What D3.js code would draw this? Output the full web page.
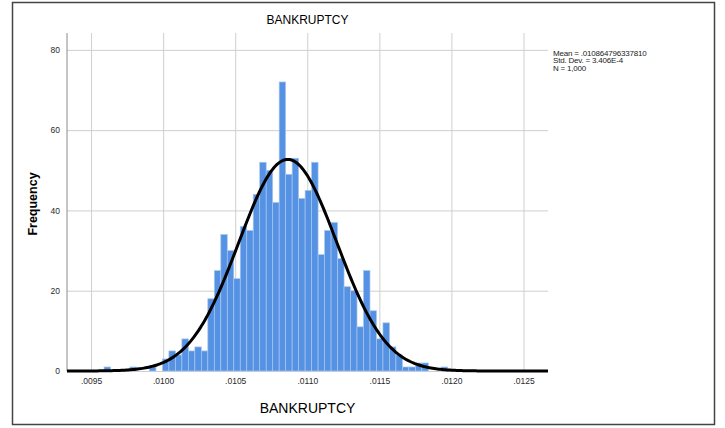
<!DOCTYPE html>
<html>
<head>
<meta charset="utf-8">
<script src="https://cdn.jsdelivr.net/npm/d3@7"></script>
<style>
  body { margin: 0; background: #fff; }
  text { font-family: "Liberation Sans", Arial, sans-serif; }
</style>
</head>
<body>
<div id="chart"></div>
<script>
// histogram counts, one per bin
var counts = [1, 0, 0, 0, 1, 0, 0, 1, 0, 3,
              5, 4, 8, 5, 6, 5, 18, 25, 34, 30,
              23, 36, 35, 44, 52, 50, 42, 72, 49, 53,
              43, 45, 52, 29, 35, 37, 28, 21, 20, 11,
              25, 15, 8, 12, 6, 4, 1, 1, 2, 2,
              0, 0, 1];
var binStart = 0.00959;
var binWidth = 0.000045;

var xTicks = [0.0095, 0.0100, 0.0105, 0.0110, 0.0115, 0.0120, 0.0125];
var xTickLabels = [".0095", ".0100", ".0105", ".0110", ".0115", ".0120", ".0125"];
var yTicks = [0, 20, 40, 60, 80];

var mean = 0.010864796337810;
var stdDev = 0.0003406;
var n = 1000;
var legendLines = ["Mean = .010864796337810", "Std. Dev. = 3.406E-4", "N = 1,000"];

var W = 725, H = 428;
// plot box (note: "top" is reserved on window, so use p* names)
var pLeft = 67, pRight = 548, pTop = 33, pBottom = 371;

var svg = d3.select('#chart').append('svg')
    .attr('width', W)
    .attr('height', H);

// outer frame
svg.append('rect')
    .attr('x', 12.5).attr('y', 2.5)
    .attr('width', 702).attr('height', 422)
    .attr('fill', '#fff')
    .attr('stroke', '#444')
    .attr('stroke-width', 1.5);

var x = d3.scaleLinear().domain([0.009333, 0.012670]).range([pLeft, pRight]);
var y = d3.scaleLinear().domain([0, 84.2]).range([pBottom, pTop]);

// gridlines + tick labels through the axes
var xAxis = svg.append('g')
    .attr('transform', 'translate(0,' + pBottom + ')')
    .call(d3.axisBottom(x)
      .tickValues(xTicks)
      .tickFormat((d, i) => xTickLabels[i])
      .tickSize(-(pBottom - pTop))
      .tickPadding(7));

var yAxis = svg.append('g')
    .attr('transform', 'translate(' + pLeft + ',0)')
    .call(d3.axisLeft(y)
      .tickValues(yTicks)
      .tickSize(-(pRight - pLeft))
      .tickPadding(7));

[xAxis, yAxis].forEach(function(g) {
  g.select('.domain').remove();
  g.selectAll('.tick line').attr('stroke', '#cfcfcf').attr('stroke-width', 1);
  g.selectAll('.tick text')
    .attr('fill', '#2a2a2a')
    .style('font-size', '8.5px')
    .style('font-family', '"Liberation Sans", Arial, sans-serif');
});

// bars
svg.append('g')
  .selectAll('rect')
  .data(counts)
  .enter()
  .append('rect')
    .attr('x', (d, i) => x(binStart + i * binWidth))
    .attr('width', (d, i) => x(binStart + (i + 1) * binWidth) - x(binStart + i * binWidth))
    .attr('y', d => y(d))
    .attr('height', d => y(0) - y(d))
    .attr('fill', '#5592e3')
    .attr('stroke', '#a8c6f0')
    .attr('stroke-width', 0.7);

// y axis line
svg.append('line')
    .attr('x1', pLeft).attr('x2', pLeft)
    .attr('y1', pTop).attr('y2', pBottom)
    .attr('stroke', '#8a8a8a');

// fitted normal curve
var peak = n * binWidth / (stdDev * Math.sqrt(2 * Math.PI));
var curve = d3.range(0, 301).map(function(i) {
  var v = x.domain()[0] + i * (x.domain()[1] - x.domain()[0]) / 300;
  var z = (v - mean) / stdDev;
  return [v, peak * Math.exp(-0.5 * z * z)];
});

svg.append('path')
    .datum(curve)
    .attr('fill', 'none')
    .attr('stroke', '#000')
    .attr('stroke-width', 3)
    .attr('d', d3.line().x(d => x(d[0])).y(d => y(d[1])));

// titles
svg.append('text')
    .attr('x', (pLeft + pRight) / 2).attr('y', 24)
    .attr('text-anchor', 'middle')
    .style('font-size', '12px')
    .text('BANKRUPTCY');

svg.append('text')
    .attr('x', (pLeft + pRight) / 2).attr('y', 413)
    .attr('text-anchor', 'middle')
    .style('font-size', '14px')
    .text('BANKRUPTCY');

svg.append('text')
    .attr('transform', 'translate(37,' + ((pTop + pBottom) / 2 + 2) + ')rotate(-90)')
    .attr('text-anchor', 'middle')
    .style('font-size', '12.5px')
    .style('font-weight', 'bold')
    .text('Frequency');

// stats legend
svg.append('g')
  .selectAll('text')
  .data(legendLines)
  .enter()
  .append('text')
    .attr('x', 553)
    .attr('y', (d, i) => 55.5 + i * 7.8)
    .style('font-size', '8px')
    .style('letter-spacing', '-0.2px')
    .attr('fill', '#222')
    .text(d => d);
</script>
</body>
</html>
